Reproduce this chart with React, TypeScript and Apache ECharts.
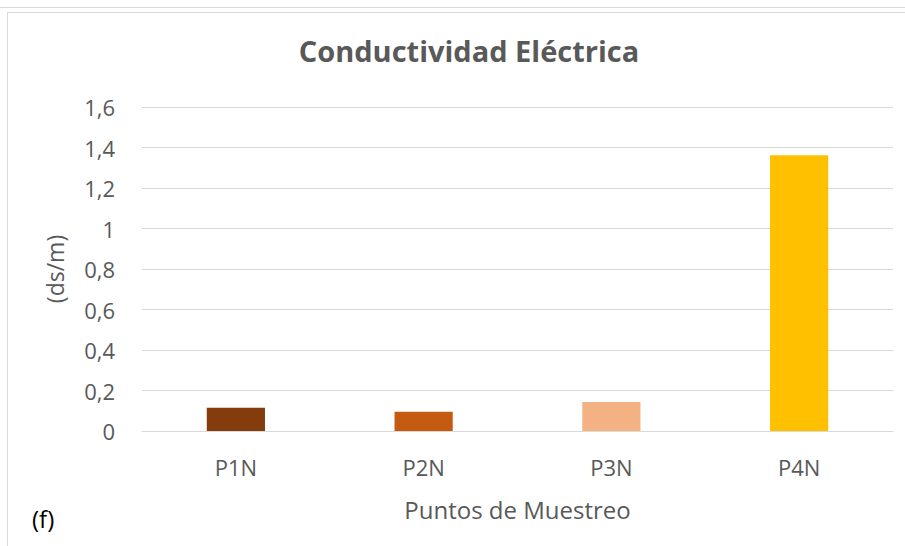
import React, { useEffect, useRef } from "react";
import * as echarts from "echarts";

const categories = ["P1N", "P2N", "P3N", "P4N"];
const values = [0.115, 0.095, 0.143, 1.362];
const barColors = ["#843C0C", "#C55A11", "#F4B183", "#FFC000"];
const yTicks = { min: 0, max: 1.6, interval: 0.2 };
const titleText = "Conductividad Eléctrica";
const yName = "(ds/m)";
const xName = "Puntos de Muestreo";
const panelLabel = "(f)";

const FONT = "'Open Sans', 'Noto Sans', sans-serif";
const TXT = "#595959";

export default function App() {
  const ref = useRef<HTMLDivElement>(null);
  useEffect(() => {
    if (!ref.current) return;
    const chart = echarts.init(ref.current, null, { renderer: "svg" });
    chart.setOption({
      animation: false,
      backgroundColor: "#ffffff",
      title: {
        text: titleText,
        left: 464,
        textAlign: "center",
        top: 31,
        textStyle: { fontFamily: FONT, fontSize: 29, fontWeight: "bold", color: TXT },
      },
      grid: { left: 142, right: 12, top: 107, bottom: 115 },
      xAxis: {
        type: "category",
        data: categories,
        name: xName,
        nameLocation: "middle",
        nameGap: 66,
        nameTextStyle: { fontFamily: FONT, fontSize: 24, color: TXT },
        axisLine: { show: true, lineStyle: { color: "#d9d9d9", width: 1 } },
        axisTick: { show: false },
        axisLabel: { fontFamily: FONT, fontSize: 22, color: TXT, margin: 25 },
      },
      yAxis: {
        type: "value",
        min: yTicks.min,
        max: yTicks.max,
        interval: yTicks.interval,
        name: yName,
        nameLocation: "middle",
        nameGap: 76,
        nameRotate: 90,
        nameTextStyle: { fontFamily: FONT, fontSize: 23, color: TXT },
        axisLine: { show: false },
        axisTick: { show: false },
        splitLine: { lineStyle: { color: "#d9d9d9", width: 1 } },
        axisLabel: {
          fontFamily: FONT,
          fontSize: 22,
          color: TXT,
          margin: 27,
          formatter: (v: number) => String(Math.round(v * 10) / 10).replace(".", ","),
        },
      },
      series: [
        {
          type: "bar",
          data: values.map((v, i) => ({ value: v, itemStyle: { color: barColors[i] } })),
          barWidth: "31%",
        },
      ],
      graphic: [
        { type: "line", shape: { x1: 0, y1: 7.5, x2: 905, y2: 7.5 }, style: { stroke: "#d9d9d9", lineWidth: 1 } },
        { type: "line", shape: { x1: 7.5, y1: 12.5, x2: 905, y2: 12.5 }, style: { stroke: "#d9d9d9", lineWidth: 1 } },
        { type: "line", shape: { x1: 7.5, y1: 12.5, x2: 7.5, y2: 546 }, style: { stroke: "#d9d9d9", lineWidth: 1 } },
        {
          type: "text",
          left: 32,
          top: 506,
          style: { text: panelLabel, fontFamily: FONT, fontSize: 24, fill: "#000000" },
        },
      ],
    });
    return () => chart.dispose();
  }, []);
  return (
    <div
      ref={ref}
      style={{ position: "fixed", left: 0, top: 0, width: 905, height: 546 }}
    />
  );
}
